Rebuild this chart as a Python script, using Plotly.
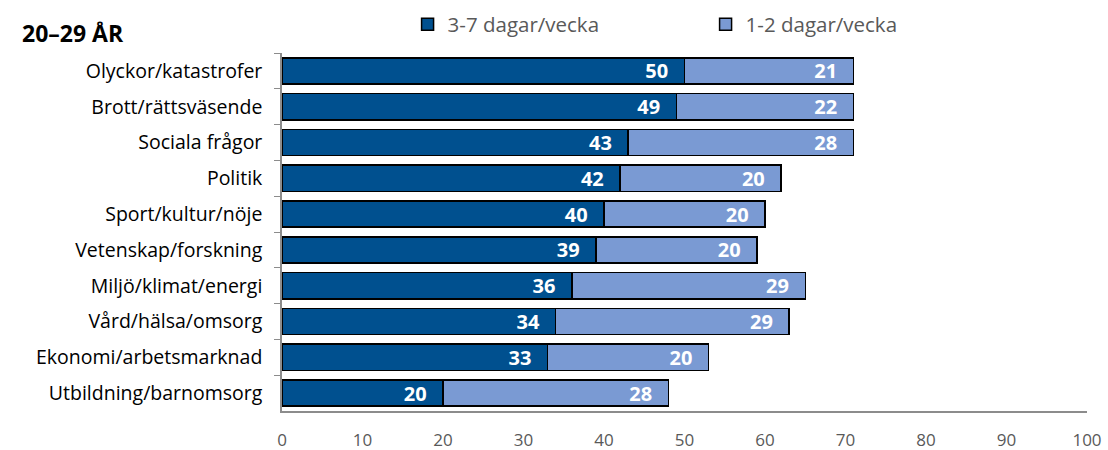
import plotly.graph_objects as go

categories = ["Olyckor/katastrofer", "Brott/rättsväsende", "Sociala frågor", "Politik",
              "Sport/kultur/nöje", "Vetenskap/forskning", "Miljö/klimat/energi",
              "Vård/hälsa/omsorg", "Ekonomi/arbetsmarknad", "Utbildning/barnomsorg"]
often = [50, 49, 43, 42, 40, 39, 36, 34, 33, 20]
sometimes = [21, 22, 28, 20, 20, 20, 29, 29, 20, 28]
series_names = ["3-7 dagar/vecka", "1-2 dagar/vecka"]
title_text = "20–29 ÅR"
x_ticks = [0, 10, 20, 30, 40, 50, 60, 70, 80, 90, 100]

FONT = "Open Sans"
colors = ["#00508F", "#7A9AD3"]

fig = go.Figure()
for name, vals, col in zip(series_names, [often, sometimes], colors):
    fig.add_trace(go.Bar(
        y=categories, x=vals, name=name, orientation="h",
        marker=dict(color=col, line=dict(color="#000000", width=1.5)),
        text=vals, texttemplate="%{text}\u2002\u2009", textposition="inside",
        insidetextanchor="end", textangle=0, constraintext="none",
        textfont=dict(color="white", size=20, family=FONT, weight="bold"),
        cliponaxis=False,
    ))

fig.update_layout(
    barmode="stack", bargap=0.27,
    width=1108, height=450,
    margin=dict(l=282, r=21, t=53, b=39, autoexpand=False),
    plot_bgcolor="white", paper_bgcolor="white",
    font=dict(family=FONT, size=19, color="#000000"),
    showlegend=True,
    legend=dict(orientation="h", x=0.156, xanchor="left", y=1.08, yanchor="middle",
                font=dict(size=20.5, color="#595959", family=FONT),
                entrywidth=253, entrywidthmode="pixels",
                traceorder="normal", bgcolor="rgba(0,0,0,0)"),
)
fig.add_annotation(text="<b>" + title_text + "</b>", xref="paper", yref="paper",
                   x=-0.325, y=1.056, xanchor="left", yanchor="middle",
                   showarrow=False, font=dict(size=23, color="#000000", family=FONT))

fig.update_xaxes(range=[0, 100], tickvals=x_ticks, showgrid=False, zeroline=False,
                 showline=True, linecolor="#8C8C8C", linewidth=1.5, automargin=False,
                 ticks="", ticklabelstandoff=13,
                 tickfont=dict(size=17, color="#595959", family=FONT))
fig.update_yaxes(autorange="reversed", showgrid=False, showline=True, automargin=False,
                 linecolor="#8C8C8C", linewidth=1.5, ticks="outside", tickson="boundaries",
                 ticklen=6, tickcolor="#8C8C8C", ticklabelstandoff=14,
                 tickfont=dict(size=19.5, color="#000000", family=FONT))

fig.write_html("out.html", config={"displayModeBar": False},
               post_script="document.body.style.margin='0';")
